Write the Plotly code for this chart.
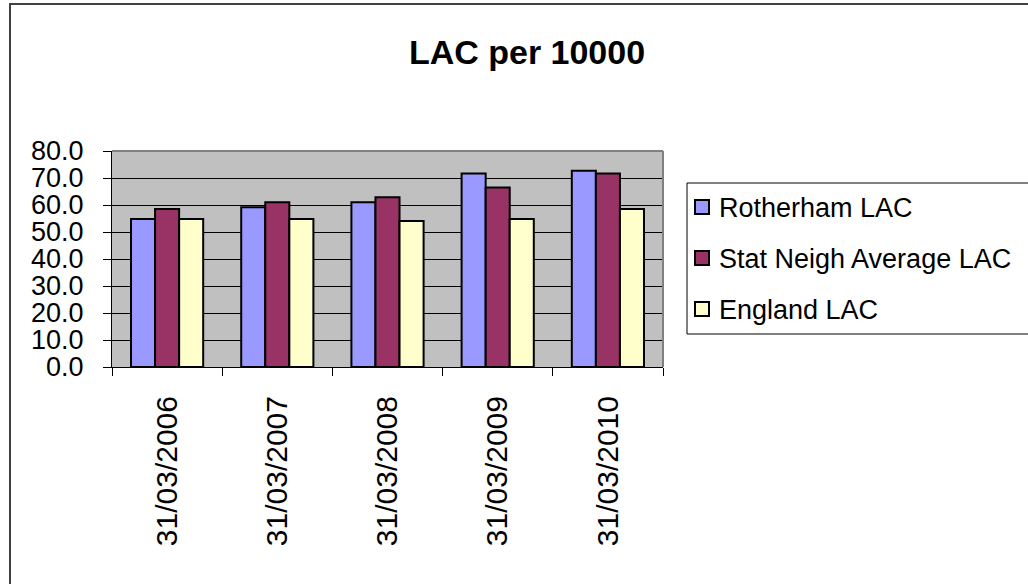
import plotly.graph_objects as go

# Looked-after children rate per 10,000, at 31 March each year
dates = ["31/03/2006", "31/03/2007", "31/03/2008", "31/03/2009", "31/03/2010"]
rotherham = [54.8, 59.2, 61.0, 71.7, 72.7]
stat_neigh = [58.5, 61.0, 62.9, 66.5, 71.7]
england = [54.8, 54.8, 54.1, 54.8, 58.5]

series_names = ["Rotherham LAC", "Stat Neigh Average LAC", "England LAC"]
series_colors = ["#9999FF", "#993366", "#FFFFCC"]
y_ticks = [0, 10, 20, 30, 40, 50, 60, 70, 80]

FONT = "Arial, Liberation Sans, sans-serif"
W, H = 1028, 584
L, R, T, B = 112, 663, 151, 367  # plot area edges in pixels


def px_x(p):
    return (p - L) / (R - L)


def px_y(p):
    return (B - p) / (B - T)


fig = go.Figure()
for name, vals, col in zip(series_names, [rotherham, stat_neigh, england], series_colors):
    fig.add_trace(go.Bar(
        x=dates, y=vals, name=name,
        marker=dict(color=col, line=dict(color="#000000", width=2)),
    ))

fig.update_layout(
    width=W, height=H,
    margin=dict(l=L, r=W - R, t=T, b=H - B, pad=0, autoexpand=False),
    paper_bgcolor="#FFFFFF",
    plot_bgcolor="#C0C0C0",
    barmode="group",
    bargap=0.345,
    bargroupgap=0,
    font=dict(family=FONT, size=27, color="#000000"),
    title=dict(
        text="<b>LAC per 10000</b>",
        font=dict(family=FONT, size=34, color="#000000"),
        x=527 / W, xanchor="center",
        y=1 - 52 / H, yanchor="middle",
    ),
    showlegend=False,
)

fig.update_yaxes(
    range=[0, 80],
    tickvals=y_ticks,
    tickformat=".1f",
    ticks="outside", ticklen=8, tickwidth=1, tickcolor="#000000",
    showline=True, linecolor="#000000", linewidth=1,
    showgrid=True, gridcolor="#000000", gridwidth=1,
    zeroline=False,
    ticklabelstandoff=14,
    tickfont=dict(family=FONT, size=27),
)

fig.update_xaxes(
    type="category",
    tickson="boundaries",
    ticks="outside", ticklen=8, tickwidth=1, tickcolor="#000000",
    showline=True, linecolor="#000000", linewidth=1,
    showgrid=False,
    tickangle=-90,
    ticklabelstandoff=16,
    tickfont=dict(family=FONT, size=30),
)

# Plot-area frame on the top and right
fig.add_shape(type="line", xref="paper", yref="paper", x0=0, x1=1, y0=1, y1=1,
              line=dict(color="#808080", width=2))
fig.add_shape(type="line", xref="paper", yref="paper", x0=1, x1=1, y0=0, y1=1,
              line=dict(color="#808080", width=2))

# Outer chart border
fig.add_shape(type="rect", xref="paper", yref="paper",
              x0=px_x(10), x1=px_x(1100), y0=px_y(640), y1=px_y(4),
              line=dict(color="#404040", width=2), fillcolor="rgba(0,0,0,0)")

# Legend: framed box with a swatch and label per series
leg_left, leg_top, leg_bottom = 687, 183, 334
row_centres = [207, 258, 309]
fig.add_shape(type="rect", xref="paper", yref="paper",
              x0=px_x(leg_left), x1=px_x(1100), y0=px_y(leg_bottom), y1=px_y(leg_top),
              line=dict(color="#000000", width=1), fillcolor="#FFFFFF")
for name, col, yc in zip(series_names, series_colors, row_centres):
    fig.add_shape(type="rect", xref="paper", yref="paper",
                  x0=px_x(695), x1=px_x(709), y0=px_y(yc + 7), y1=px_y(yc - 7),
                  line=dict(color="#000000", width=2), fillcolor=col)
    fig.add_annotation(text=name, xref="paper", yref="paper",
                       x=px_x(717), y=px_y(yc + 1), xanchor="left", yanchor="middle",
                       showarrow=False, font=dict(family=FONT, size=27, color="#000000"))

fig.write_html("out.html")
